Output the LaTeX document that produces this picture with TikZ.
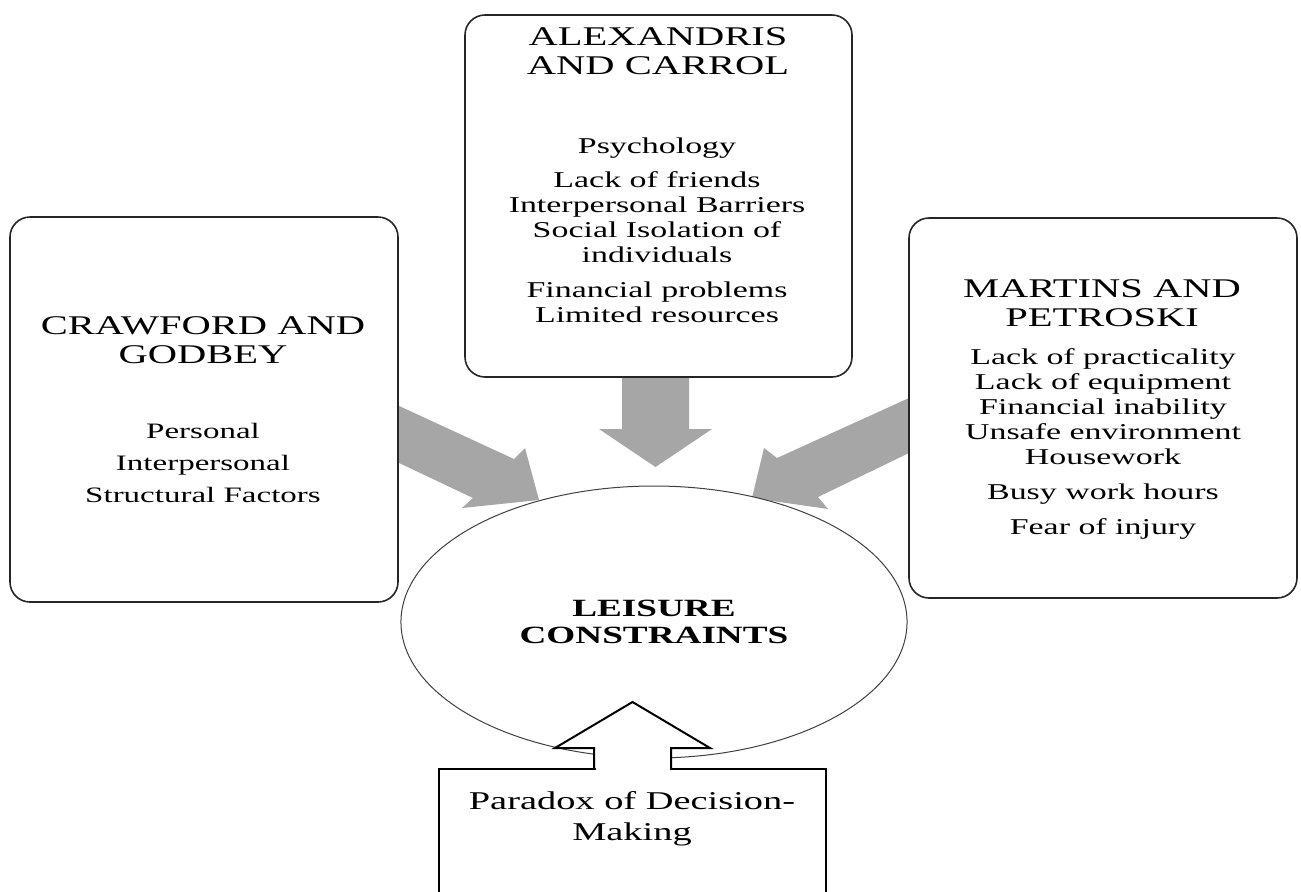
\documentclass[tikz,border=0pt]{standalone}
\usepackage{fontspec}
\setmainfont{Liberation Serif}
\usetikzlibrary{shapes.geometric,calc}

\definecolor{arrowgray}{RGB}{166,166,166}

\tikzset{
  authorbox/.style={draw=black!85, line width=0.8pt, rounded corners=10pt, inner sep=0pt},
  headtext/.style={font=\fontsize{13.5}{14.5}\selectfont, align=center, xscale=1.5, anchor=north, inner sep=0pt},
  listtext/.style={font=\fontsize{11.3}{12.5}\selectfont, align=center, xscale=1.5, anchor=north, inner sep=0pt},
  bigarrow/.style={fill=arrowgray},
}

\begin{document}
\begin{tikzpicture}[x=0.5pt, y=-0.5pt]
    \clip (0,0) rectangle (1301,891);

    % grey block arrows pointing at the circle
    \fill[bigarrow] (397,405) -- (514,459) -- (525,448) -- (539,500) -- (462,508) -- (473,498) -- (397,462) -- cycle;
    \fill[bigarrow] (622,377) -- (622,429) -- (599,429) -- (655.5,467) -- (712,429) -- (689,429) -- (689,377) -- cycle;
    \fill[bigarrow] (909,398) -- (777,458) -- (764,448) -- (752,498) -- (828,509) -- (818,497) -- (909,453) -- cycle;

    % the three author boxes
    \node[authorbox, minimum width=193.5pt, minimum height=181pt] (alex) at (658.5,196) {};
    \node[authorbox, minimum width=194pt, minimum height=192.5pt] (crawford) at (204,409.5) {};
    \node[authorbox, minimum width=194pt, minimum height=190pt] (martins) at (1103,408) {};

    \node[headtext] (alexhead) at (658,27) {ALEXANDRIS\\AND CARROL};
    \node[listtext] (alexlist) at (657,137.6) {Psychology\\[4.5pt]
        Lack of friends\\Interpersonal Barriers\\Social Isolation of\\individuals\\[5pt]
        Financial problems\\Limited resources};

    \node[headtext] (crawhead) at (203,316) {CRAWFORD AND\\GODBEY};
    \node[listtext, font=\fontsize{11}{16}\selectfont] (crawlist) at (203,422.6)
        {Personal\\Interpersonal\\Structural Factors};

    \node[headtext] (marthead) at (1102,279) {MARTINS AND\\PETROSKI};
    \node[listtext] (martlist) at (1103,348.6) {Lack of practicality\\Lack of equipment\\
        Financial inability\\Unsafe environment\\Housework\\[5pt]
        Busy work hours\\[5pt]Fear of injury};

    % centre
    \node[ellipse, draw=black!75, line width=0.5pt, fill=white, xscale=1.5,
          minimum width=168.7pt, minimum height=136pt, inner sep=0pt, align=center,
          font=\bfseries\fontsize{12.4}{13.5}\selectfont] (leisure) at (654,622)
        {LEISURE\\CONSTRAINTS};

    % bottom box with its open arrow
    \node[draw, line width=1pt, fill=white, minimum width=193.5pt, minimum height=100pt] (paradox) at (632.5,869) {};
    \draw[line width=1pt, fill=white] ($(paradox.north)+(-38.5,0)$) -- ++(0,-20) -- ++(-39,0)
        -- ($(paradox.north)+(0,-66)$) -- ($(paradox.north)+(77.5,-20)$) -- ++(-39,0) -- ++(0,20);
    \fill[white] ($(paradox.north)+(-37,-2)$) rectangle ($(paradox.north)+(37,2)$);
    \node[listtext, font=\fontsize{12.8}{15.5}\selectfont] (paradoxtext) at (632,791.4)
        {Paradox of Decision-\\Making};
\end{tikzpicture}
\end{document}
